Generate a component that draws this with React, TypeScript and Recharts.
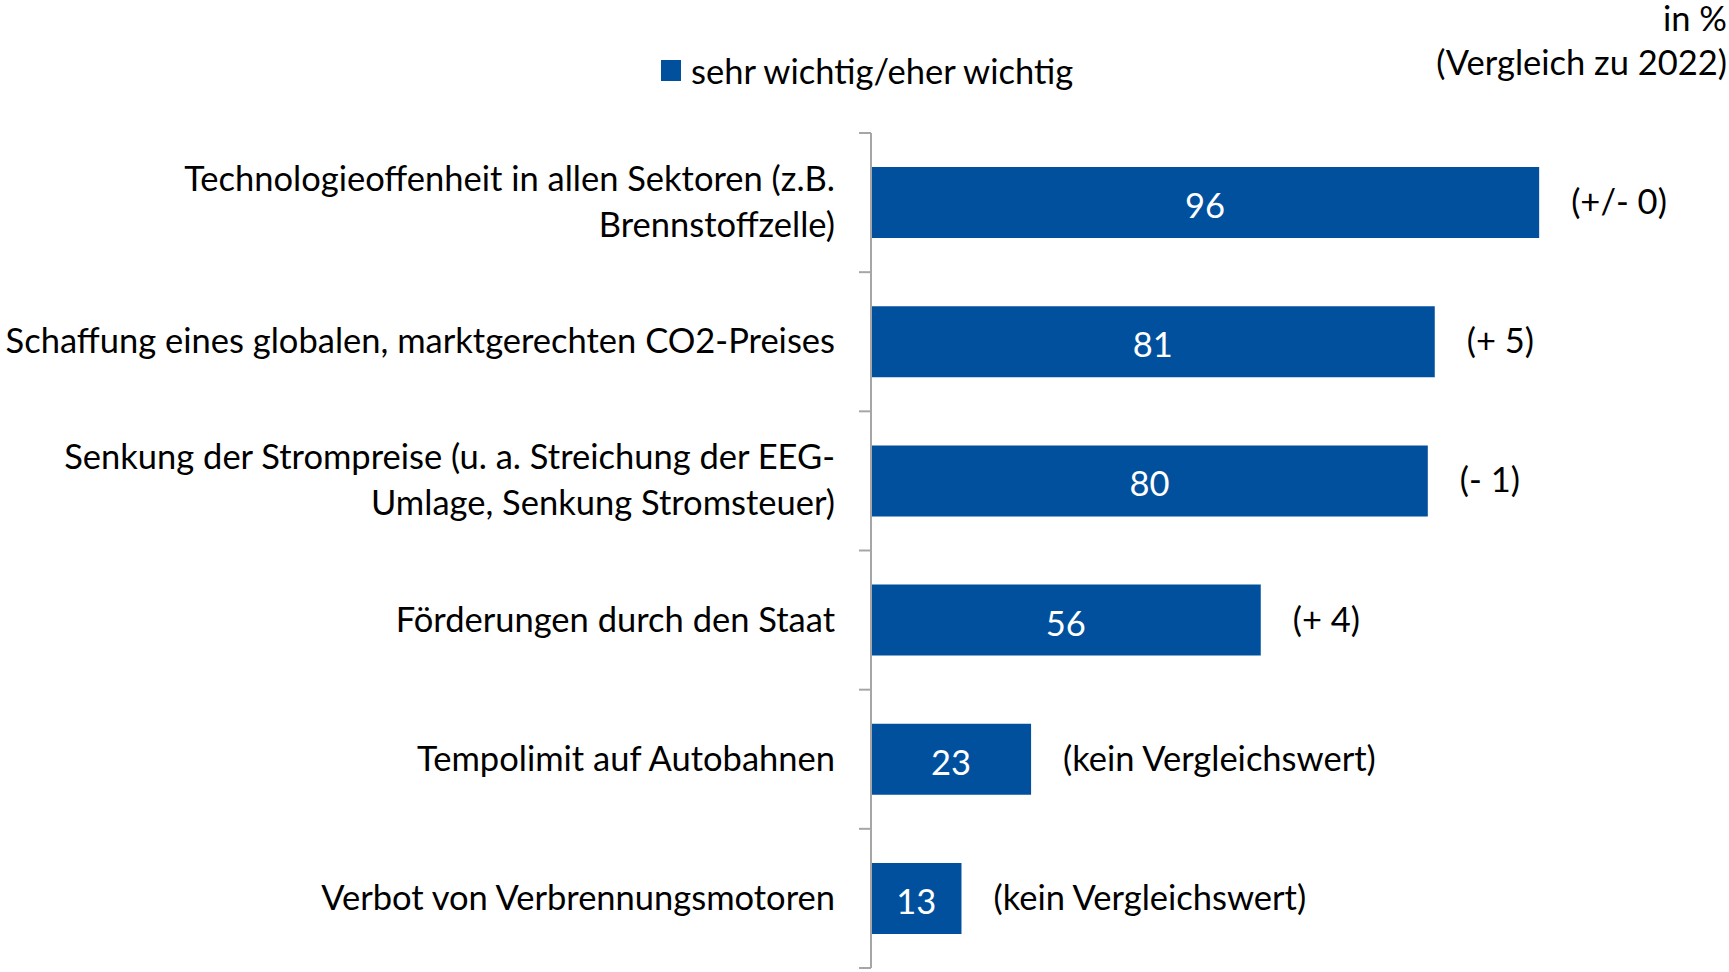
import React from "react";
import { BarChart, Bar, XAxis, YAxis, LabelList, Legend } from "recharts";

const categories = [
  "Technologieoffenheit in allen Sektoren (z.B.\nBrennstoffzelle)",
  "Schaffung eines globalen, marktgerechten CO2-Preises",
  "Senkung der Strompreise (u. a. Streichung der EEG-\nUmlage, Senkung Stromsteuer)",
  "Förderungen durch den Staat",
  "Tempolimit auf Autobahnen",
  "Verbot von Verbrennungsmotoren",
];
const values = [96, 81, 80, 56, 23, 13];
const comparisons = ["(+/- 0)", "(+ 5)", "(- 1)", "(+ 4)", "(kein Vergleichswert)", "(kein Vergleichswert)"];
const seriesName = "sehr wichtig/eher wichtig";
const unitNote = ["in %", "(Vergleich zu 2022)"];

const data = categories.map((name, i) => ({ name, value: values[i], cmp: comparisons[i] }));

const W = 1729;
const H = 972;
const M = { top: 133, right: 162, bottom: 4, left: 0 };
const AXIS_W = 871;
const BAND = (H - M.top - M.bottom) / categories.length;
const BLUE = "#00509E";
const AXIS_GREY = "#A6A6A6";
const FONT = "Lato, 'Open Sans', sans-serif";
const FS = 34.5;

const CategoryTick = (props: any) => {
  const { x, y, payload, index } = props;
  const lines = String(payload.value).split("\n");
  const lh = 46;
  const start = -((lines.length - 1) * lh) / 2;
  const top = y - BAND / 2;
  return (
    <g>
      <line x1={x - 12} x2={x} y1={top} y2={top} stroke={AXIS_GREY} strokeWidth={2} />
      {index === categories.length - 1 && (
        <line x1={x - 12} x2={x} y1={y + BAND / 2} y2={y + BAND / 2} stroke={AXIS_GREY} strokeWidth={2} />
      )}
      {lines.map((l, i) => (
        <text
          key={i}
          x={x - 36}
          y={y + start + i * lh - 2}
          textAnchor="end"
          dominantBaseline="central"
          fontFamily={FONT}
          fontSize={FS}
          fill="#000"
        >
          {l}
        </text>
      ))}
    </g>
  );
};

const ValueLabel = (props: any) => {
  const { x, y, width, height, value } = props;
  return (
    <text
      x={x + width / 2}
      y={y + height / 2 + 2}
      textAnchor="middle"
      dominantBaseline="central"
      fontFamily={FONT}
      fontSize={FS}
      fill="#fff"
    >
      {value}
    </text>
  );
};

const CmpLabel = (props: any) => {
  const { x, y, width, height, value } = props;
  return (
    <text
      x={x + width + 32}
      y={y + height / 2 - 2}
      textAnchor="start"
      dominantBaseline="central"
      fontFamily={FONT}
      fontSize={FS}
      fill="#000"
    >
      {value}
    </text>
  );
};

const LegendContent = () => (
  <div style={{ display: "flex", alignItems: "center", fontFamily: FONT, fontSize: FS, color: "#000", whiteSpace: "nowrap" }}>
    <span style={{ display: "inline-block", width: 20, height: 21, background: BLUE, marginRight: 10 }} />
    <span>{seriesName}</span>
  </div>
);

export default function App() {
  return (
    <div style={{ position: "absolute", left: 0, top: 0, width: W, height: H, background: "#fff" }}>
      <BarChart width={W} height={H} data={data} layout="vertical" margin={M} barCategoryGap="24.5%">
        <XAxis type="number" domain={[0, 100]} hide />
        <YAxis
          type="category"
          dataKey="name"
          width={AXIS_W}
          axisLine={{ stroke: AXIS_GREY, strokeWidth: 2 }}
          tickLine={false}
          tickSize={0}
          tickMargin={0}
          tick={<CategoryTick />}
          interval={0}
        />
        <Legend
          layout="vertical"
          verticalAlign="middle"
          align="center"
          content={<LegendContent />}
          wrapperStyle={{ top: 50, left: 661, width: "auto", height: "auto" }}
        />
        <Bar dataKey="value" name={seriesName} fill={BLUE} isAnimationActive={false}>
          <LabelList dataKey="value" content={<ValueLabel />} />
          <LabelList dataKey="cmp" content={<CmpLabel />} />
        </Bar>
      </BarChart>
      <div
        style={{
          position: "absolute",
          right: 2,
          top: 0,
          textAlign: "right",
          fontFamily: FONT,
          fontSize: FS,
          color: "#000",
        }}
      >
        <div style={{ lineHeight: "36px" }}>{unitNote[0]}</div>
        <div style={{ lineHeight: "52px" }}>{unitNote[1]}</div>
      </div>
    </div>
  );
}
